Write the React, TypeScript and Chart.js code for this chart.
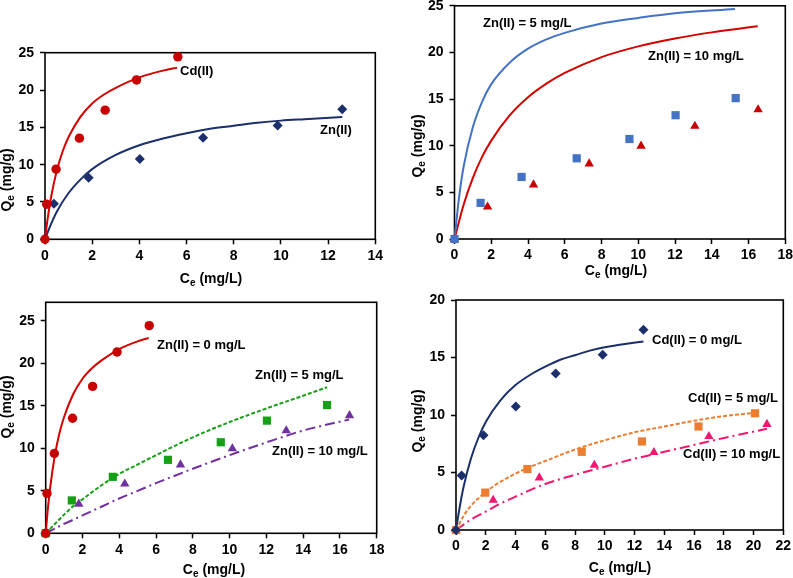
import React, { useEffect, useRef } from 'react';
import { Chart, registerables } from 'chart.js';

Chart.register(...registerables);

const PAGE_W = 793;
const PAGE_H = 578;
const FONT = '"Liberation Sans", Arial, Helvetica, sans-serif';

// ---------- Data ----------
// Single-metal Cd(II) isotherm (panels A and C)
const cdX = [0, 0.07, 0.47, 1.46, 2.55, 3.88, 5.63];
const cdY = [0, 4.7, 9.4, 13.55, 17.3, 21.35, 24.45];
const cdFitX = [0, 0.1, 0.25, 0.5, 0.75, 1, 1.5, 2, 2.5, 3, 4, 5, 5.6];
const cdFitY = [0, 2.5, 5.5, 9.2, 11.8, 13.7, 16.4, 18.2, 19.4, 20.3, 21.7, 22.6, 23.0];

// Single-metal Zn(II) isotherm (panels A and D)
const znX = [0, 0.38, 1.85, 4.02, 6.7, 9.86, 12.6];
const znY = [0, 4.75, 8.25, 10.75, 13.6, 15.25, 17.42];
const znFitX = [0, 0.25, 0.5, 1, 1.5, 2, 3, 4, 5, 6, 7, 8, 9, 10, 11, 12.6];
const znFitY = [0, 2.0, 3.7, 6.2, 8.0, 9.4, 11.3, 12.6, 13.5, 14.2, 14.8, 15.2, 15.6, 15.9, 16.1, 16.4];

// Cd(II) uptake with Zn(II) present (panels B and C)
const cdZn5X = [0, 1.42, 3.65, 6.65, 9.52, 12.03, 15.3];
const cdZn5Y = [0, 3.87, 6.65, 8.65, 10.72, 13.27, 15.1];
const cdZn10X = [0, 1.8, 4.3, 7.33, 10.15, 13.08, 16.52];
const cdZn10Y = [0, 3.45, 5.82, 8.07, 9.97, 12.1, 13.87];

// Panel B predicted curves
const predZn5X = [0, 0.25, 0.5, 1, 1.5, 2, 3, 4, 5, 6, 8, 10, 12, 15.26];
const predZn5Y = [0, 4.5, 7.8, 12.0, 14.7, 16.6, 18.9, 20.4, 21.4, 22.1, 23.1, 23.7, 24.2, 24.65];
const predZn10X = [0, 0.5, 1, 1.5, 2, 3, 4, 5, 6, 8, 10, 12, 14, 16.5];
const predZn10Y = [0, 3.7, 6.55, 8.8, 10.55, 13.25, 15.2, 16.65, 17.8, 19.5, 20.65, 21.5, 22.15, 22.8];

// Panel C fitted curves
const fitZn5X = [0, 0.5, 1, 1.5, 2, 3, 4, 5, 6, 8, 10, 12, 14, 15.3];
const fitZn5Y = [0, 1.1, 2.2, 3.2, 4.0, 5.6, 7.0, 8.1, 9.2, 11.3, 13.1, 14.7, 16.2, 17.2];
const fitZn10X = [0, 1, 2, 3, 4, 5, 6, 8, 10, 12, 14, 16.5];
const fitZn10Y = [0, 1.1, 2.1, 3.1, 4.1, 5.0, 5.9, 7.6, 9.2, 10.7, 12.1, 13.4];

// Zn(II) uptake with Cd(II) present (panel D)
const znCd5X = [0, 1.97, 4.8, 8.45, 12.5, 16.3, 20.1];
const znCd5Y = [0, 3.25, 5.3, 6.8, 7.7, 9.0, 10.15];
const znCd10X = [0, 2.5, 5.6, 9.3, 13.3, 17.0, 20.9];
const znCd10Y = [0, 2.6, 4.55, 5.65, 6.75, 8.15, 9.2];
const fitCd5X = [0, 0.5, 1, 2, 3, 4, 5, 6, 8, 10, 12, 14, 16, 18, 20.1];
const fitCd5Y = [0, 1.2, 2.1, 3.3, 4.2, 4.9, 5.5, 6.0, 7.0, 7.8, 8.5, 9.0, 9.5, 9.9, 10.2];
const fitCd10X = [0, 1, 2, 3, 4, 6, 8, 10, 12, 14, 16, 18, 20.9];
const fitCd10Y = [0, 0.9, 1.6, 2.3, 2.9, 4.0, 4.8, 5.5, 6.2, 6.8, 7.4, 8.0, 8.8];

// ---------- Colours ----------
const RED = '#C80000';
const RED_LINE = '#D40000';
const NAVY = '#1A2F6B';
const BLUE = '#4472C4';
const GREEN = '#16A016';
const PURPLE = '#7030A0';
const ORANGE = '#ED7D31';
const PINK = '#F5166E';

const pts = (xs: number[], ys: number[]) => xs.map((x, i) => ({ x, y: ys[i] }));

function markers(xs: number[], ys: number[], color: string, style: any, radius: number) {
  return {
    data: pts(xs, ys),
    showLine: false,
    pointStyle: style,
    pointRadius: radius,
    pointBackgroundColor: color,
    pointBorderColor: color,
    pointBorderWidth: 0,
    clip: false,
  };
}

function curve(xs: number[], ys: number[], color: string, dash: number[] = []) {
  return {
    data: pts(xs, ys),
    showLine: true,
    pointRadius: 0,
    borderColor: color,
    borderWidth: 2,
    borderDash: dash,
    cubicInterpolationMode: 'monotone',
    fill: false,
    clip: false,
  };
}

function drawSubText(ctx: CanvasRenderingContext2D, parts: [string, boolean][], cx: number, cy: number, rotate: boolean) {
  const big = `bold 14px ${FONT}`;
  const small = `bold 10px ${FONT}`;
  let total = 0;
  const widths = parts.map(([t, sub]) => {
    ctx.font = sub ? small : big;
    const w = ctx.measureText(t).width;
    total += w;
    return w;
  });
  ctx.save();
  ctx.translate(cx, cy);
  if (rotate) ctx.rotate(-Math.PI / 2);
  ctx.fillStyle = '#000';
  ctx.textAlign = 'left';
  ctx.textBaseline = 'middle';
  let x = -total / 2;
  parts.forEach(([t, sub], i) => {
    ctx.font = sub ? small : big;
    ctx.fillText(t, x, sub ? 4 : 0);
    x += widths[i];
  });
  ctx.restore();
}

const panelPlugin = {
  id: 'panelDecor',
  beforeDatasetsDraw(chart: any) {
    const a = chart.chartArea;
    const ctx = chart.ctx;
    ctx.save();
    ctx.strokeStyle = '#000';
    ctx.lineWidth = 1.6;
    ctx.strokeRect(a.left, a.top, a.right - a.left, a.bottom - a.top);
    ctx.restore();
  },
  afterDraw(chart: any) {
    const o = chart.options.plugins.panelDecor;
    const ctx = chart.ctx;
    ctx.save();
    ctx.fillStyle = '#000';
    ctx.font = `bold 13px ${FONT}`;
    ctx.textAlign = 'left';
    ctx.textBaseline = 'middle';
    for (const l of o.labels) ctx.fillText(l.text, l.x, l.y);
    ctx.restore();
    drawSubText(ctx, [['C', false], ['e', true], [' (mg/L)', false]], o.xTitle.x, o.xTitle.y, false);
    drawSubText(ctx, [['Q', false], ['e', true], [' (mg/g)', false]], o.yTitle.x, o.yTitle.y, true);
  },
};

type Panel = {
  area: { l: number; t: number; r: number; b: number };
  xMax: number;
  yMax: number;
  datasets: any[];
  labels: { text: string; x: number; y: number }[];
  xTitle: { x: number; y: number };
  yTitle: { x: number; y: number };
};

const AXIS_W = 40;
const AXIS_H = 30;

const panels: Panel[] = [
  {
    area: { l: 45, t: 52.7, r: 375.3, b: 239.3 },
    xMax: 14,
    yMax: 25,
    datasets: [
      markers(cdX, cdY, RED, 'circle', 4.7),
      markers(znX, znY, NAVY, 'rectRot', 5),
      curve(cdFitX, cdFitY, RED_LINE),
      curve(znFitX, znFitY, NAVY),
    ],
    labels: [
      { text: 'Cd(II)', x: 180, y: 71 },
      { text: 'Zn(II)', x: 320, y: 130 },
    ],
    xTitle: { x: 211, y: 279 },
    yTitle: { x: 7, y: 180 },
  },
  {
    area: { l: 454.5, t: 5, r: 785.3, b: 239 },
    xMax: 18,
    yMax: 25,
    datasets: [
      markers(cdZn5X, cdZn5Y, BLUE, 'rect', 5.8),
      markers(cdZn10X, cdZn10Y, RED, 'triangle', 5.4),
      curve(predZn5X, predZn5Y, BLUE),
      curve(predZn10X, predZn10Y, RED_LINE),
    ],
    labels: [
      { text: 'Zn(II) = 5 mg/L', x: 483, y: 23 },
      { text: 'Zn(II) = 10 mg/L', x: 648, y: 56 },
    ],
    xTitle: { x: 616, y: 271 },
    yTitle: { x: 418, y: 146 },
  },
  {
    area: { l: 45.7, t: 302.3, r: 376.7, b: 533.3 },
    xMax: 18,
    yMax: 27.2,
    datasets: [
      markers(cdX, cdY, RED, 'circle', 4.7),
      markers(cdZn5X, cdZn5Y, GREEN, 'rect', 5.8),
      markers(cdZn10X, cdZn10Y, PURPLE, 'triangle', 5.4),
      curve(cdFitX, cdFitY, RED_LINE),
      curve(fitZn5X, fitZn5Y, GREEN, [4, 2]),
      curve(fitZn10X, fitZn10Y, PURPLE, [10, 4, 2, 4]),
    ],
    labels: [
      { text: 'Zn(II) = 0 mg/L', x: 157, y: 345 },
      { text: 'Zn(II) = 5 mg/L', x: 255, y: 375 },
      { text: 'Zn(II) = 10 mg/L', x: 272, y: 451 },
    ],
    xTitle: { x: 214, y: 570 },
    yTitle: { x: 7, y: 407 },
  },
  {
    area: { l: 456, t: 300, r: 783.3, b: 530 },
    xMax: 22,
    yMax: 20,
    datasets: [
      markers(znX, znY, NAVY, 'rectRot', 5),
      markers(znCd5X, znCd5Y, ORANGE, 'rect', 5.8),
      markers(znCd10X, znCd10Y, PINK, 'triangle', 5.4),
      curve(znFitX, znFitY, NAVY),
      curve(fitCd5X, fitCd5Y, ORANGE, [4, 2]),
      curve(fitCd10X, fitCd10Y, PINK, [10, 4, 2, 4]),
    ],
    labels: [
      { text: 'Cd(II) = 0 mg/L', x: 652, y: 340 },
      { text: 'Cd(II) = 5 mg/L', x: 688, y: 398 },
      { text: 'Cd(II) = 10 mg/L', x: 683, y: 454 },
    ],
    xTitle: { x: 620, y: 568 },
    yTitle: { x: 418, y: 421 },
  },
];

function tickFont() {
  return { family: FONT, size: 14, weight: 'bold' as const };
}

function PanelChart({ panel }: { panel: Panel }) {
  const ref = useRef<HTMLCanvasElement | null>(null);
  useEffect(() => {
    if (!ref.current) return;
    const { area } = panel;
    const chart = new Chart(ref.current, {
      type: 'scatter',
      data: { datasets: panel.datasets as any },
      plugins: [panelPlugin as any],
      options: {
        animation: false,
        responsive: false,
        devicePixelRatio: 1,
        events: [],
        layout: {
          padding: {
            left: area.l - AXIS_W,
            top: area.t,
            right: PAGE_W - area.r,
            bottom: PAGE_H - area.b - AXIS_H,
          },
        },
        plugins: {
          legend: { display: false },
          tooltip: { enabled: false },
          panelDecor: {
            labels: panel.labels,
            xTitle: panel.xTitle,
            yTitle: panel.yTitle,
          },
        } as any,
        scales: {
          x: {
            type: 'linear',
            bounds: 'data',
            min: 0,
            max: panel.xMax,
            border: { display: false },
            grid: {
              display: true,
              drawOnChartArea: false,
              drawTicks: true,
              tickLength: 5,
              tickColor: '#000',
              tickWidth: 1.5,
            },
            ticks: {
              stepSize: 2,
              autoSkip: false,
              maxRotation: 0,
              includeBounds: false,
              padding: 3,
              color: '#000',
              font: tickFont(),
            },
            afterFit: (s: any) => {
              s.height = AXIS_H;
              s.paddingLeft = 0;
              s.paddingRight = 0;
              s.paddingTop = 0;
              s.paddingBottom = 0;
            },
          },
          y: {
            type: 'linear',
            bounds: 'data',
            min: 0,
            max: panel.yMax,
            border: { display: false },
            grid: {
              display: true,
              drawOnChartArea: false,
              drawTicks: true,
              tickLength: 5,
              tickColor: '#000',
              tickWidth: 1.5,
            },
            ticks: {
              stepSize: 5,
              includeBounds: false,
              padding: 6,
              color: '#000',
              font: tickFont(),
            },
            afterFit: (s: any) => {
              s.width = AXIS_W;
              s.paddingLeft = 0;
              s.paddingRight = 0;
              s.paddingTop = 0;
              s.paddingBottom = 0;
            },
          },
        } as any,
      },
    });
    return () => chart.destroy();
  }, [panel]);
  return (
    <canvas
      ref={ref}
      width={PAGE_W}
      height={PAGE_H}
      style={{ position: 'absolute', left: 0, top: 0, width: PAGE_W, height: PAGE_H }}
    />
  );
}

export default function App() {
  return (
    <div
      style={{
        position: 'absolute',
        left: 0,
        top: 0,
        width: PAGE_W,
        height: PAGE_H,
        background: '#fff',
        overflow: 'hidden',
      }}
    >
      {panels.map((p, i) => (
        <PanelChart key={i} panel={p} />
      ))}
    </div>
  );
}
